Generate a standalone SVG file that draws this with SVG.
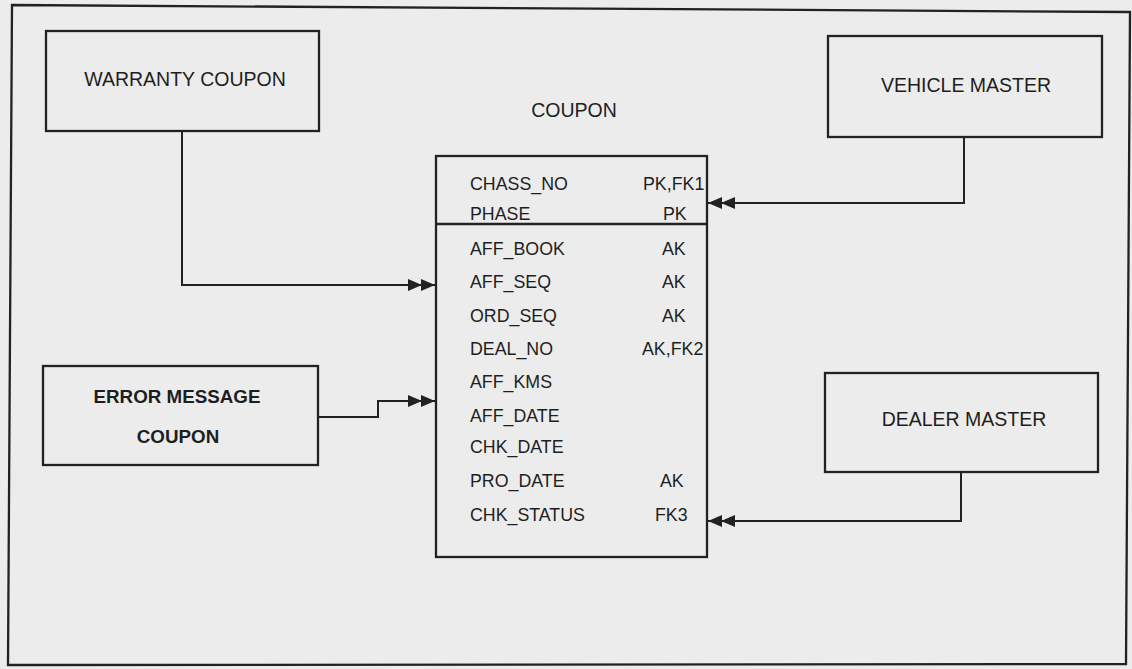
<svg xmlns="http://www.w3.org/2000/svg" width="1132" height="669" viewBox="0 0 1132 669">
<style>
.bg{fill:#ececec}
.box{fill:none;stroke:#222;stroke-width:2.3}
.conn{fill:none;stroke:#222;stroke-width:2}
.t{font-family:"Liberation Sans",Arial,sans-serif;fill:#1e1e1e}
.title{font-size:19.5px}
.bold{font-size:18.8px;font-weight:bold}
.f{font-size:17.8px}
</style>
<defs>
<marker id="dbl" markerUnits="userSpaceOnUse" markerWidth="30" markerHeight="14" refX="28" refY="7" orient="auto">
<path d="M1,1 L15,7 L1,13 z M14,1 L28,7 L14,13 z" fill="#222"/>
</marker>
</defs>
<rect class="bg" x="0" y="0" width="1132" height="669"/>
<polygon class="box" points="12,5 1130,12 1126,664 8,665"/>

<g id="warranty-coupon">
<rect class="box" x="46" y="31" width="273" height="100"/>
<text class="t title" x="185" y="86" text-anchor="middle">WARRANTY COUPON</text>
</g>

<g id="vehicle-master">
<rect class="box" x="828" y="36" width="274" height="101"/>
<text class="t title" x="966" y="92" text-anchor="middle">VEHICLE MASTER</text>
</g>

<g id="error-message-coupon">
<rect class="box" x="43" y="366" width="275" height="99"/>
<text class="t bold" x="177" y="403" text-anchor="middle">ERROR MESSAGE</text>
<text class="t bold" x="178" y="443" text-anchor="middle">COUPON</text>
</g>

<g id="dealer-master">
<rect class="box" x="825" y="373" width="273" height="99"/>
<text class="t title" x="964" y="426" text-anchor="middle">DEALER MASTER</text>
</g>

<g id="coupon">
<text class="t title" x="574" y="117" text-anchor="middle">COUPON</text>
<rect class="box" x="436" y="156" width="271" height="401"/>
<line class="box" x1="436" y1="224" x2="707" y2="224"/>
<text class="t f" x="470" y="190">CHASS_NO</text>
<text class="t f" x="643" y="190">PK,FK1</text>
<text class="t f" x="663" y="220">PK</text>
<text class="t f" x="470" y="220">PHASE</text>
<text class="t f" x="470" y="255">AFF_BOOK</text>
<text class="t f" x="662" y="255">AK</text>
<text class="t f" x="470" y="288">AFF_SEQ</text>
<text class="t f" x="662" y="288">AK</text>
<text class="t f" x="470" y="322">ORD_SEQ</text>
<text class="t f" x="662" y="322">AK</text>
<text class="t f" x="470" y="355">DEAL_NO</text>
<text class="t f" x="642" y="355">AK,FK2</text>
<text class="t f" x="470" y="388">AFF_KMS</text>
<text class="t f" x="470" y="422">AFF_DATE</text>
<text class="t f" x="470" y="453">CHK_DATE</text>
<text class="t f" x="470" y="487">PRO_DATE</text>
<text class="t f" x="660" y="487">AK</text>
<text class="t f" x="470" y="521">CHK_STATUS</text>
<text class="t f" x="655" y="521">FK3</text>
</g>

<g id="connectors">
<path class="conn" d="M182,131 V285 H435" marker-end="url(#dbl)"/>
<path class="conn" d="M964,137 V203 H708" marker-end="url(#dbl)"/>
<path class="conn" d="M318,417 H378 V401 H435" marker-end="url(#dbl)"/>
<path class="conn" d="M961,472 V521 H708" marker-end="url(#dbl)"/>
</g>
</svg>
